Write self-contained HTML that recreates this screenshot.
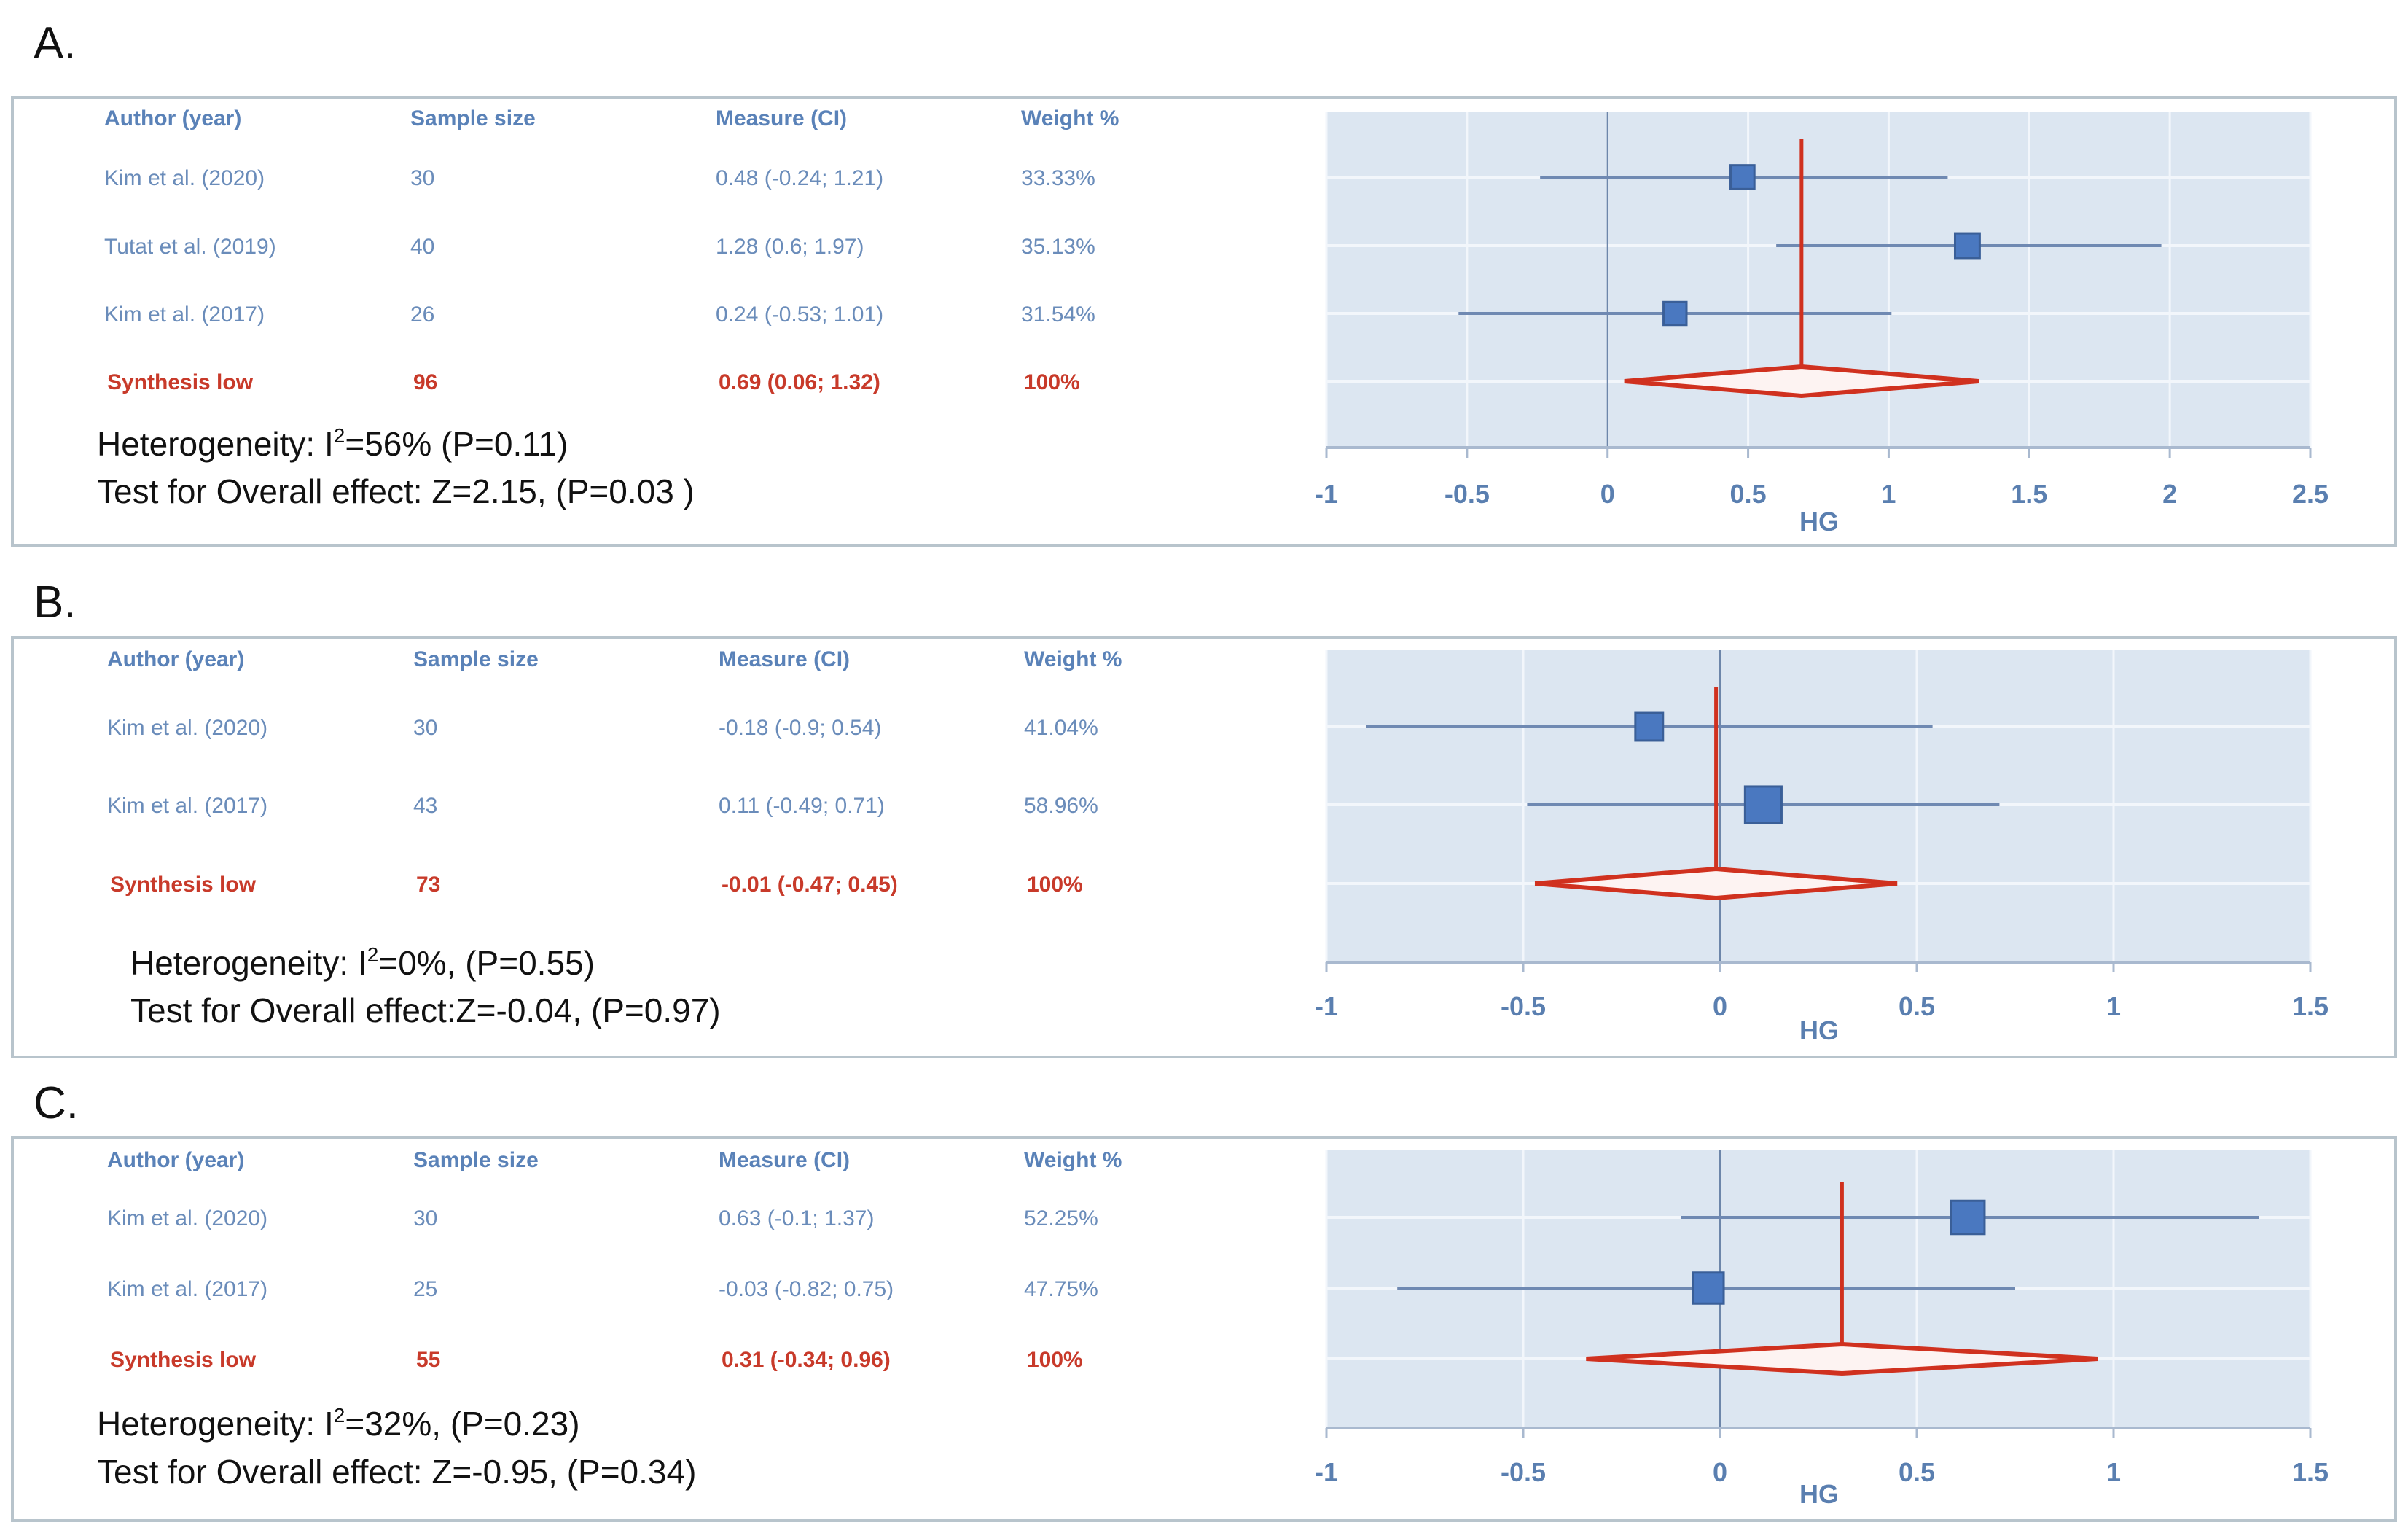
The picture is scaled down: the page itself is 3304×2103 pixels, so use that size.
<!DOCTYPE html>
<html><head><meta charset="utf-8">
<style>
html,body{margin:0;padding:0;background:#fff;}
svg{display:block;font-family:"Liberation Sans",sans-serif;}
</style></head>
<body>
<svg id="fig" width="3304" height="2103" viewBox="0 0 3304 2103" xmlns="http://www.w3.org/2000/svg"></svg>
<script>
// Panel A data
const authorsA = ["Kim et al. (2020)", "Tutat et al. (2019)", "Kim et al. (2017)"];
const samplesA = [30, 40, 26];
const estA = [0.48, 1.28, 0.24];
const lowA = [-0.24, 0.6, -0.53];
const highA = [1.21, 1.97, 1.01];
const weightsA = [33.33, 35.13, 31.54];
const pooledA = [0.69, 0.06, 1.32];
const pooledNA = 96;
const ticksA = [-1, -0.5, 0, 0.5, 1, 1.5, 2, 2.5];
const hetA = ["56%", "(P=0.11)"];
const testA = "Test for Overall effect: Z=2.15, (P=0.03 )";

// Panel B data
const authorsB = ["Kim et al. (2020)", "Kim et al. (2017)"];
const samplesB = [30, 43];
const estB = [-0.18, 0.11];
const lowB = [-0.9, -0.49];
const highB = [0.54, 0.71];
const weightsB = [41.04, 58.96];
const pooledB = [-0.01, -0.47, 0.45];
const pooledNB = 73;
const ticksB = [-1, -0.5, 0, 0.5, 1, 1.5];
const hetB = ["0%,", "(P=0.55)"];
const testB = "Test for Overall effect:Z=-0.04, (P=0.97)";

// Panel C data
const authorsC = ["Kim et al. (2020)", "Kim et al. (2017)"];
const samplesC = [30, 25];
const estC = [0.63, -0.03];
const lowC = [-0.1, -0.82];
const highC = [1.37, 0.75];
const weightsC = [52.25, 47.75];
const pooledC = [0.31, -0.34, 0.96];
const pooledNC = 55;
const ticksC = [-1, -0.5, 0, 0.5, 1, 1.5];
const hetC = ["32%,", "(P=0.23)"];
const testC = "Test for Overall effect: Z=-0.95, (P=0.34)";

const NS = "http://www.w3.org/2000/svg";
const svg = document.getElementById("fig");
function mk(tag, attrs, parent, text){
  const e = document.createElementNS(NS, tag);
  for (const k in attrs) e.setAttribute(k, attrs[k]);
  if (text !== undefined) e.textContent = text;
  (parent||svg).appendChild(e);
  return e;
}
function fmt(v){ return (v<0?"-":"") + String(Math.abs(v)).replace(/^0(?=\.)/, "0"); }

const BLUE_T = "#5a82b8", RED = "#c83a2a";

function panel(cfg){
  const g = mk("g", {});
  
  
  const lab = mk("text", {x: 46, y: cfg.labelY, "font-size": 62, fill: "#111"}, g, cfg.id.toUpperCase() + ".");
  
  
  const box = mk("rect", {x: 17, y: cfg.boxTop, width: 3270, height: cfg.boxBot - cfg.boxTop, fill: "none", stroke: "#b8c4cc", "stroke-width": 4}, g);
  
  
  const cols = [143, 563, 982, 1401];
  const heads = ["Author (year)", "Sample size", "Measure (CI)", "Weight %"];
  heads.forEach((h, i) => {
    const t = mk("text", {x: cols[i] + cfg.dx, y: cfg.headY + 10, "font-size": 30, "font-weight": "bold", fill: BLUE_T}, g, h);
    
    
  });
  // plot area
  const x0 = 1820, x1 = 3170;
  const tmin = cfg.ticks[0], tmax = cfg.ticks[cfg.ticks.length-1];
  const X = v => x0 + (v - tmin) / (tmax - tmin) * (x1 - x0);
  const bg = mk("rect", {x: x0, y: cfg.plotTop, width: x1 - x0, height: cfg.axisY - cfg.plotTop, fill: "#dce6f1"}, g);
  
  
  cfg.ticks.forEach(t => {
    if (t !== 0) {
      const gl = mk("line", {x1: X(t), x2: X(t), y1: cfg.plotTop, y2: cfg.axisY, stroke: "#f2f6fb", "stroke-width": 3}, g);
      
      
    }
  });
  const rowsAll = cfg.rows.concat([cfg.pooledY]);
  rowsAll.forEach(y => {
    const hl = mk("line", {x1: x0, x2: x1, y1: y, y2: y, stroke: "#f2f6fb", "stroke-width": 4}, g);
    
    
  });
  const zl = mk("line", {x1: X(0), x2: X(0), y1: cfg.plotTop, y2: cfg.axisY, stroke: "#6d86aa", "stroke-width": 2}, g);
  
  
  const ax = mk("line", {x1: x0, x2: x1, y1: cfg.axisY, y2: cfg.axisY, stroke: "#a9b9cf", "stroke-width": 4}, g);
  
  
  cfg.ticks.forEach(t => {
    const tk = mk("line", {x1: X(t), x2: X(t), y1: cfg.axisY, y2: cfg.axisY + 14, stroke: "#a9b9cf", "stroke-width": 3}, g);
    
    
    const tl = mk("text", {x: X(t), y: cfg.tickY, "font-size": 36, "font-weight": "bold", fill: "#5a7fb0", "text-anchor": "middle"}, g, String(t));
    
    
  });
  const hg = mk("text", {x: 2496, y: cfg.hgY, "font-size": 36, "font-weight": "bold", fill: "#5a7fb0", "text-anchor": "middle"}, g, "HG");
  
  

  // study rows
  cfg.rows.forEach((y, i) => {
    const texts = [cfg.authors[i], String(cfg.samples[i]),
      fmt(cfg.est[i]) + " (" + fmt(cfg.low[i]) + "; " + fmt(cfg.high[i]) + ")", cfg.weights[i].toFixed(2) + "%"];
    texts.forEach((s, j) => {
      const t = mk("text", {x: cols[j] + cfg.dx, y: y + 11, "font-size": 30, fill: "#6a8cba"}, g, s);
      
      
    });
    const ci = mk("line", {x1: X(cfg.low[i]), x2: X(cfg.high[i]), y1: y, y2: y, stroke: "#6f89b2", "stroke-width": 4}, g);
    
    
    const s = 10 + 0.68 * cfg.weights[i];
    const sq = mk("rect", {x: X(cfg.est[i]) - s/2, y: y - s/2, width: s, height: s, fill: "#4a78c0", stroke: "#3a5f98", "stroke-width": 3}, g);
    
    
  });
  // pooled row
  const py = cfg.pooledY, p = cfg.pooled;
  const ptexts = ["Synthesis low", String(cfg.pooledN),
    fmt(p[0]) + " (" + fmt(p[1]) + "; " + fmt(p[2]) + ")", "100%"];
  ptexts.forEach((s, j) => {
    const t = mk("text", {x: cols[j] + cfg.dx + 4, y: py + 11, "font-size": 30, "font-weight": "bold", fill: RED}, g, s);
    
    
  });
  const vl = mk("line", {x1: X(p[0]), x2: X(p[0]), y1: cfg.redTop, y2: py - 20, stroke: "#d0311f", "stroke-width": 5}, g);
  
  
  const dm = mk("polygon", {points: `${X(p[1])},${py} ${X(p[0])},${py-20} ${X(p[2])},${py} ${X(p[0])},${py+20}`, fill: "#fdf3f2", stroke: "#d0311f", "stroke-width": 6, "stroke-linejoin": "miter"}, g);
  
  

  // heterogeneity
  const h = mk("text", {x: cfg.hetX, y: cfg.hetY + 16, "font-size": 46, fill: "#111"}, g);
  
  
  mk("tspan", {}, h, "Heterogeneity: I");
  mk("tspan", {"font-size": 28, dy: -18}, h, "2");
  mk("tspan", {dy: 18}, h, "=" + cfg.het[0] + " " + cfg.het[1]);
  const te = mk("text", {x: cfg.hetX, y: cfg.testY + 16, "font-size": 46, fill: "#111"}, g, cfg.test);
  
  
}

panel({id:"a", labelY: 80, boxTop: 134, boxBot: 748, headY: 162, dx: 0,
  authors: authorsA, samples: samplesA, est: estA, low: lowA, high: highA, weights: weightsA,
  pooled: pooledA, pooledN: pooledNA, ticks: ticksA, het: hetA, test: testA,
  rows: [243, 337, 430], pooledY: 523, plotTop: 153, axisY: 614, tickY: 690, hgY: 728,
  redTop: 190, hetX: 133, hetY: 609, testY: 674});
panel({id:"b", labelY: 847, boxTop: 874, boxBot: 1450, headY: 904, dx: 4,
  authors: authorsB, samples: samplesB, est: estB, low: lowB, high: highB, weights: weightsB,
  pooled: pooledB, pooledN: pooledNB, ticks: ticksB, het: hetB, test: testB,
  rows: [997, 1104], pooledY: 1212, plotTop: 892, axisY: 1320, tickY: 1393, hgY: 1426,
  redTop: 942, hetX: 179, hetY: 1321, testY: 1386});
panel({id:"c", labelY: 1534, boxTop: 1561, boxBot: 2086, headY: 1591, dx: 4,
  authors: authorsC, samples: samplesC, est: estC, low: lowC, high: highC, weights: weightsC,
  pooled: pooledC, pooledN: pooledNC, ticks: ticksC, het: hetC, test: testC,
  rows: [1670, 1767], pooledY: 1864, plotTop: 1577, axisY: 1959, tickY: 2032, hgY: 2062,
  redTop: 1621, hetX: 133, hetY: 1953, testY: 2019});
</script>
</body></html>
